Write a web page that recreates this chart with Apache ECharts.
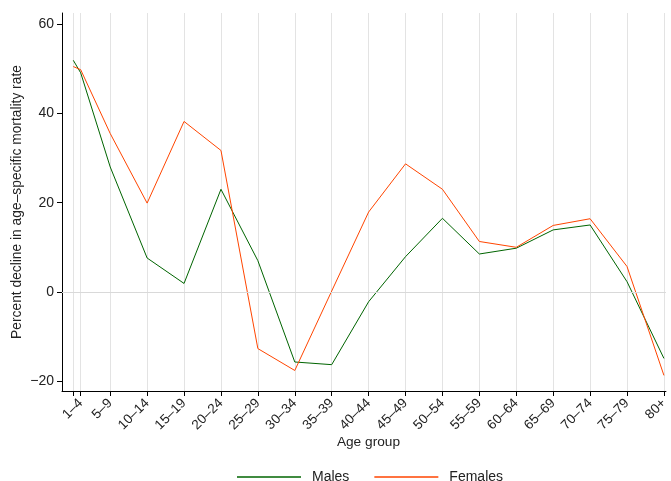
<!DOCTYPE html>
<html>
<head>
<meta charset="utf-8">
<script src="https://cdn.jsdelivr.net/npm/echarts@6/dist/echarts.min.js"></script>
<style>html,body{margin:0;padding:0;background:#fff}#c{width:671px;height:481px}</style>
</head>
<body>
<div id="c"></div>
<script>
var ages = [0, 1, 5, 10, 15, 20, 25, 30, 35, 40, 45, 50, 55, 60, 65, 70, 75, 80];
var ageLabels = ['', '1–4', '5–9', '10–14', '15–19', '20–24', '25–29', '30–34', '35–39', '40–44', '45–49', '50–54', '55–59', '60–64', '65–69', '70–74', '75–79', '80+'];
var males = [51.9, 49.1, 28.0, 7.6, 1.9, 23.0, 7.0, -15.7, -16.3, -2.2, 7.9, 16.5, 8.5, 9.8, 13.9, 15.0, 2.3, -14.9];
var females = [50.5, 49.8, 35.5, 19.9, 38.2, 31.7, -12.7, -17.6, 0.2, 17.9, 28.7, 23.0, 11.3, 10.0, 14.9, 16.4, 5.7, -18.7];
var yTicks = [-20, 0, 20, 40, 60];

function pairs(v) { return ages.map(function (a, i) { return [a, v[i]]; }); }
var font = 'Liberation Sans';
var chart = echarts.init(document.getElementById('c'), null, {renderer: 'canvas'});
chart.setOption({
  animation: false,
  backgroundColor: '#fff',
  grid: {left: 62, right: 0, top: 13, bottom: 90, containLabel: false},
  xAxis: {
    type: 'value', min: -1.53, max: 80.27,
    name: 'Age group', nameLocation: 'middle', nameGap: 44, nameMoveOverlap: false,
    nameTextStyle: {fontFamily: font, fontSize: 13.7, color: '#222', padding: [0, 0, 0, 9]},
    axisLine: {show: true, onZero: false, lineStyle: {color: '#000', width: 1}},
    axisTick: {show: true, length: 5, lineStyle: {color: '#000'}, customValues: ages},
    axisLabel: {
      customValues: ages, rotate: 45, margin: 10, fontFamily: font, fontSize: 13.5, color: '#222',
      formatter: function (v) { var i = ages.indexOf(v); return i >= 0 ? ageLabels[i] : ''; }
    },
    splitLine: {show: true, lineStyle: {color: '#e3e3e3', width: 1}}
  },
  yAxis: {
    type: 'value', min: -22.2, max: 62.5,
    name: 'Percent decline in age–specific mortality rate', nameLocation: 'middle', nameGap: 38, nameMoveOverlap: false,
    nameTextStyle: {fontFamily: font, fontSize: 13.8, color: '#222'},
    axisLine: {show: true, onZero: false, lineStyle: {color: '#000', width: 1}},
    axisTick: {show: true, length: 5, lineStyle: {color: '#000'}, customValues: yTicks},
    axisLabel: {
      customValues: yTicks, margin: 8, fontFamily: font, fontSize: 14, color: '#222',
      formatter: function (v) { return v < 0 ? '−' + Math.abs(v) : String(v); }
    },
    splitLine: {show: false}
  },
  legend: {
    top: 470, left: 237, itemWidth: 64, itemHeight: 1.5, itemGap: 25, padding: 0,
    textStyle: {fontFamily: font, fontSize: 14, color: '#222', padding: [0, 0, 0, 6]},
    data: [{name: 'Males', icon: 'rect'}, {name: 'Females', icon: 'rect'}]
  },
  series: [
    {
      name: 'Males', type: 'line', data: pairs(males), symbol: 'none',
      lineStyle: {color: '#006400', width: 1}, itemStyle: {color: '#006400'},
      markLine: {
        silent: true, symbol: 'none', label: {show: false},
        lineStyle: {color: '#d9d9d9', width: 1, type: 'solid'},
        data: [{yAxis: 0}]
      },
      z: 3
    },
    {
      name: 'Females', type: 'line', data: pairs(females), symbol: 'none',
      lineStyle: {color: '#ff4500', width: 1}, itemStyle: {color: '#ff4500'},
      z: 3
    }
  ]
});
</script>
</body>
</html>
